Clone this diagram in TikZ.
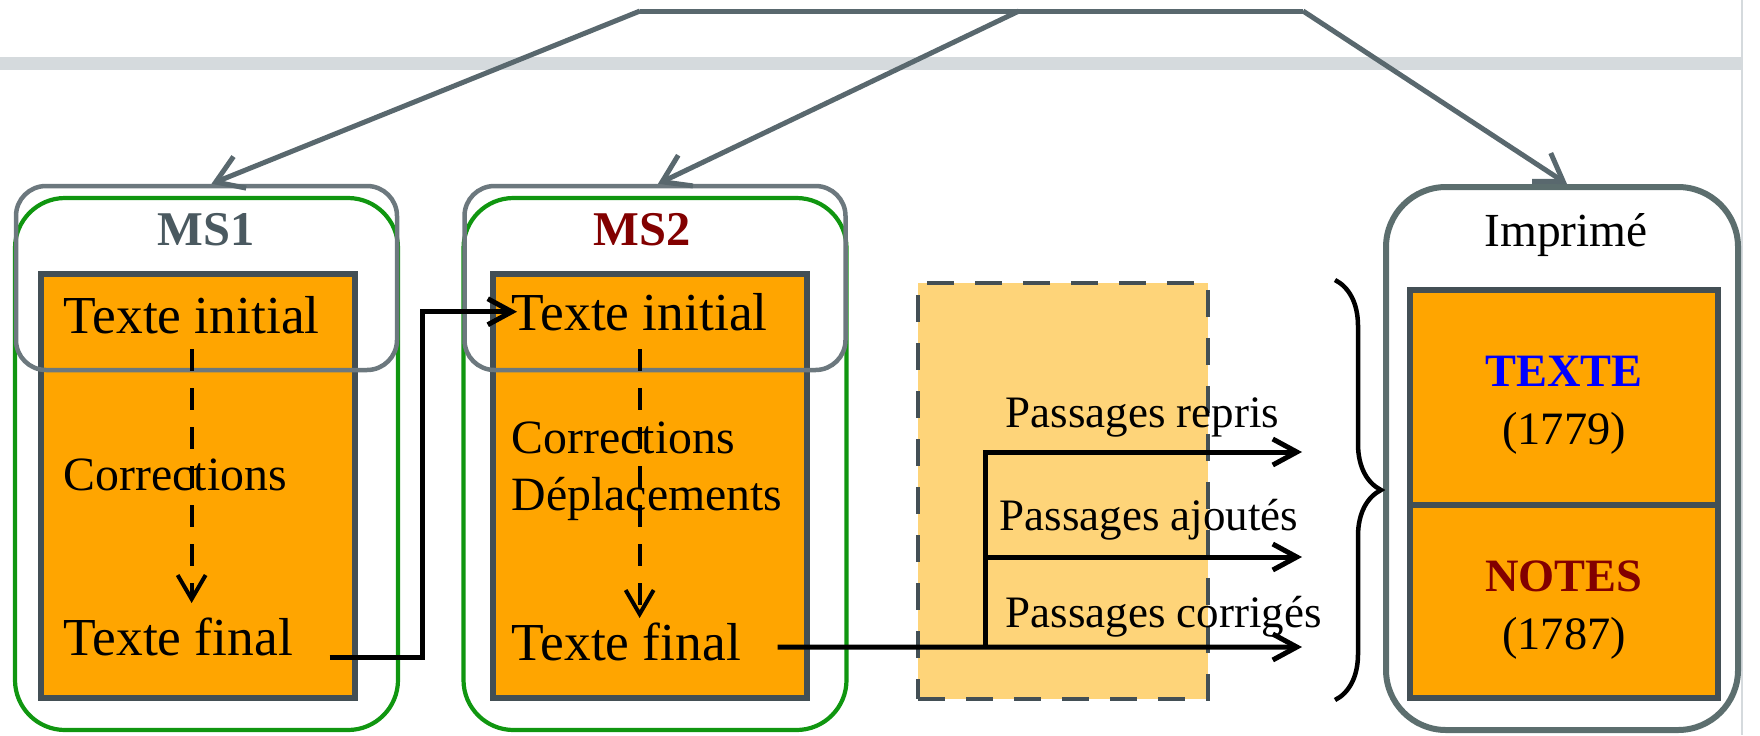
\documentclass[tikz,border=0pt]{standalone}
\usepackage{fontspec}
\setmainfont{Liberation Serif}
\usetikzlibrary{positioning, arrows.meta, decorations.pathreplacing}
\definecolor{slate}{RGB}{67,79,85}
\definecolor{linkgray}{RGB}{89,104,110}
\definecolor{headgray}{RGB}{108,120,126}
\definecolor{titlegray}{RGB}{74,89,96}
\definecolor{msgreen}{RGB}{16,150,16}
\definecolor{paperorange}{RGB}{255,165,0}
\definecolor{paleorange}{RGB}{254,212,121}
\definecolor{printgreen}{RGB}{92,110,110}
\definecolor{msred}{RGB}{130,0,0}
\definecolor{bandgray}{RGB}{213,218,221}

\begin{document}
\begin{tikzpicture}[x=0.1mm, y=-0.1mm,
  leaf/.style={draw=slate, line width=0.6mm, fill=paperorange, minimum width=31.4mm, minimum height=42.4mm},
  mshead/.style={draw=headgray, line width=0.45mm, rounded corners=3mm, minimum width=38.1mm, minimum height=18.4mm},
  msframe/.style={draw=msgreen, line width=0.42mm, rounded corners=5mm, minimum width=38.3mm, minimum height=53.2mm},
  txtbig/.style={font=\fontsize{15.2}{18}\selectfont, inner sep=0pt, anchor=base west},
  txtmid/.style={font=\fontsize{13.6}{16}\selectfont, inner sep=0pt, anchor=base west},
  txtsmall/.style={font=\fontsize{12.8}{15}\selectfont, inner sep=0pt, anchor=base west},
  mstitle/.style={font=\fontsize{13.8}{16}\selectfont\bfseries, inner sep=0pt, anchor=base},
  evol/.style={line width=0.4mm, dash pattern=on 2.2mm off 1.7mm, -{Straight Barb[length=2.4mm, width=2.8mm, line width=0.4mm]}},
  flow/.style={line width=0.5mm, -{Straight Barb[length=2.4mm, width=2.6mm, line width=0.5mm]}},
  link/.style={draw=linkgray, line width=0.5mm},
  linkarrow/.style={link, -{Straight Barb[length=2.6mm, width=3.4mm, line width=0.5mm]}},
]
\useasboundingbox (0,0) rectangle (1760,735);
\fill[bandgray] (0,57) rectangle (1741,70);
\draw[bandgray, line width=0.2mm] (1742,0) -- (1742,735);

\node[msframe] (ms1) at (206.5,464) {};
\node[leaf] (p1) at (198,486) {};
\node[mshead] (h1) at (206.5,278) {};
\node[mstitle, text=titlegray] (n1) at (206,245) {MS1};
\node[txtbig] (ini1) at (63,333) {Texte initial};
\node[txtmid] (cor1) at (63,490) {Corrections};
\node[txtbig] (fin1) at (63,655) {Texte final};

\node[msframe] (ms2) at (655,464) {};
\node[leaf] (p2) at (649.5,486) {};
\node[mshead] (h2) at (655,278) {};
\node[mstitle, text=msred] (n2) at (642,245) {MS2};
\node[txtbig] (ini2) at (511,330) {Texte initial};
\node[txtmid] (cor2) at (511,453) {Corrections};
\node[txtmid] (dep2) at (511,510) {Déplacements};
\node[txtbig] (fin2) at (511,660) {Texte final};

\node[draw=slate, fill=paleorange, line width=0.45mm, dash pattern=on 2.7mm off 2.1mm, minimum width=29mm, minimum height=41.6mm] (pool) at (1063,491) {};

\node[draw=printgreen, line width=0.6mm, rounded corners=6mm, minimum width=35.2mm, minimum height=54.3mm] (imp) at (1562,458.5) {};
\node[font=\fontsize{13.5}{16}\selectfont, inner sep=0pt, anchor=base] (impt) at (1566,246) {Imprimé};
\node[leaf, minimum width=30.8mm, minimum height=21.5mm] (up) at (1564,397.5) {};
\node[leaf, minimum width=30.8mm, minimum height=19.3mm] (low) at (1564,601.5) {};
\node[font=\fontsize{13.2}{16.5}\selectfont, align=center, inner sep=0pt] (texte) at (1564,405.5) {\textcolor{blue}{\textbf{TEXTE}}\\(1779)};
\node[font=\fontsize{13.2}{16.5}\selectfont, align=center, inner sep=0pt] (notes) at (1564,610.5) {\textcolor{msred}{\textbf{NOTES}}\\(1787)};

\draw[evol] ([yshift=-1.5mm]ini1.south) -- ([yshift=5.2mm]ini1.south |- fin1.base);
\draw[evol] ([yshift=-1.8mm]ini2.south) -- ([yshift=4.2mm]ini2.south |- fin2.base);
\draw[flow] ([xshift=3.6mm, yshift=-0.2mm]fin1.base east) -- ++(9.3mm,0) |- ([xshift=0.6mm]ini2.west);

\coordinate (split) at (985,647);
\coordinate (r1) at (1302,452);
\coordinate (r2) at (1302,557);
\coordinate (r3) at (1302,647);
\draw[flow] ([xshift=3.6mm, yshift=1.3mm]fin2.base east) -- (r3);
\draw[flow] (split) |- (r1);
\draw[flow] (split |- r2) -- (r2);
\node[txtsmall] (rep) at (1005,427) {Passages repris};
\node[txtsmall] (ajo) at (999,530) {Passages ajoutés};
\node[txtsmall] (corr) at (1005,627) {Passages corrigés};

\draw[line width=0.45mm, decorate, decoration={brace, amplitude=4.6mm}] (1335,280) -- (1335,700);

\coordinate (top1) at (640,11);
\coordinate (top2) at (1019,11);
\coordinate (top3) at (1303,11);
\draw[link] (top1) -- (top3);
\draw[linkarrow] (top1) -- ([xshift=0.5mm]h1.north);
\draw[linkarrow] (top2) -- ([xshift=0.3mm]h2.north);
\draw[linkarrow] (top3) -- ([xshift=0.5mm]imp.north);
\end{tikzpicture}
\end{document}
